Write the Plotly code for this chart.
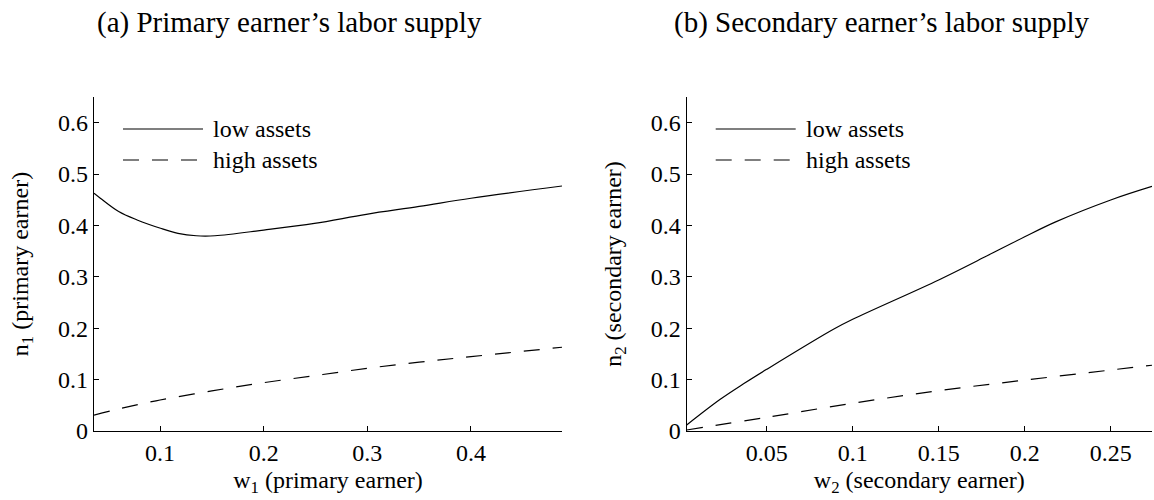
import plotly.graph_objects as go

# ---------------- data ----------------
# (a) primary earner
w1_low = [0.0363, 0.0424, 0.0601, 0.0779, 0.1005, 0.1173, 0.135, 0.153, 0.2, 0.249, 0.299, 0.35, 0.4, 0.4878]
n1_low = [0.4626, 0.453, 0.427, 0.4107, 0.3945, 0.3847, 0.380, 0.380, 0.391, 0.404, 0.4217, 0.437, 0.453, 0.4768]
w1_high = [0.0363, 0.06, 0.1, 0.15, 0.2, 0.25, 0.3, 0.35, 0.4, 0.4878]
n1_high = [0.031, 0.043, 0.0603, 0.078, 0.094, 0.108, 0.122, 0.134, 0.1447, 0.163]

# (b) secondary earner
w2_low = [0.0035, 0.023, 0.037, 0.05, 0.0888, 0.1, 0.15, 0.177, 0.2, 0.218, 0.25, 0.274]
n2_low = [0.0117, 0.0617, 0.0928, 0.120, 0.198, 0.2174, 0.294, 0.339, 0.378, 0.407, 0.4496, 0.476]
w2_high = [0.0035, 0.05, 0.1, 0.15, 0.2, 0.25, 0.274]
n2_high = [0.002, 0.0266, 0.054, 0.0785, 0.099, 0.1187, 0.128]

panel_titles = ["(a) Primary earner’s labor supply", "(b) Secondary earner’s labor supply"]
series_names = ["low assets", "high assets"]
x_titles = ["w<sub>1</sub> (primary earner)", "w<sub>2</sub> (secondary earner)"]
y_titles = ["n<sub>1</sub> (primary earner)", "n<sub>2</sub> (secondary earner)"]
x1_ticks = [0.1, 0.2, 0.3, 0.4]
x2_ticks = [0.05, 0.1, 0.15, 0.2, 0.25]
y_ticks = [0, 0.1, 0.2, 0.3, 0.4, 0.5, 0.6]

# ---------------- layout constants ----------------
W, H = 1154, 500
FONT = "Liberation Serif, Times New Roman, serif"
dash = "16px,13px"
left_dom = [94 / W, 562 / W]
right_dom = [686.7 / W, 1152 / W]
ydom = [1 - 431 / H, 1 - 97 / H]

fig = go.Figure()
line_solid = dict(color="black", width=1.2)
line_dash = dict(color="black", width=1.2, dash=dash)

fig.add_trace(go.Scatter(x=w1_low, y=n1_low, mode="lines", line=line_solid, line_shape="spline",
                         name=series_names[0], xaxis="x", yaxis="y", showlegend=False))
fig.add_trace(go.Scatter(x=w1_high, y=n1_high, mode="lines", line=line_dash, line_shape="spline",
                         name=series_names[1], xaxis="x", yaxis="y", showlegend=False))
fig.add_trace(go.Scatter(x=w2_low, y=n2_low, mode="lines", line=line_solid, line_shape="spline",
                         name=series_names[0], xaxis="x2", yaxis="y2", showlegend=False))
fig.add_trace(go.Scatter(x=w2_high, y=n2_high, mode="lines", line=line_dash, line_shape="spline",
                         name=series_names[1], xaxis="x2", yaxis="y2", showlegend=False))

tickfont = dict(family=FONT, size=24, color="black")
titlefont = dict(family=FONT, size=24, color="black")
axis_common = dict(showline=True, linecolor="black", linewidth=1.2, ticks="inside", ticklen=5,
                   tickcolor="black", tickwidth=1, showgrid=False, zeroline=False,
                   tickfont=tickfont, mirror=False, automargin=False)

fig.update_layout(
    width=W, height=H,
    margin=dict(l=0, r=0, t=0, b=0, autoexpand=False),
    paper_bgcolor="white", plot_bgcolor="white",
    showlegend=False,
    font=dict(family=FONT, color="black"),
    xaxis=dict(domain=left_dom, anchor="y", range=[0.0363, 0.4878], tickvals=x1_ticks,
               title=dict(text=x_titles[0], font=titlefont, standoff=6), **axis_common),
    yaxis=dict(domain=ydom, anchor="x", range=[0, 0.65], tickvals=y_ticks,
               title=dict(text=y_titles[0], font=titlefont, standoff=22), **axis_common),
    xaxis2=dict(domain=right_dom, anchor="y2", range=[0.0035, 0.274], tickvals=x2_ticks,
                title=dict(text=x_titles[1], font=titlefont, standoff=6), **axis_common),
    yaxis2=dict(domain=ydom, anchor="x2", range=[0, 0.65], tickvals=y_ticks,
                title=dict(text=y_titles[1], font=titlefont, standoff=22), **axis_common),
)

# panel titles
for cx, txt in zip([289, 881], panel_titles):
    fig.add_annotation(text=txt, x=cx / W, y=1 - 22 / H, xref="paper", yref="paper",
                       showarrow=False, xanchor="center", yanchor="middle",
                       font=dict(family=FONT, size=29, color="black"))

# manual legends (line samples + labels)
for ax0 in [94, 686.7]:
    for i, (yy, sty) in enumerate([(129, "solid"), (160, dash)]):
        fig.add_shape(type="line", xref="paper", yref="paper",
                      x0=(ax0 + 29) / W, x1=(ax0 + 109) / W, y0=1 - yy / H, y1=1 - yy / H,
                      line=dict(color="black", width=1.2, dash=sty))
        fig.add_annotation(text=series_names[i], x=(ax0 + 117) / W, y=1 - yy / H,
                           xref="paper", yref="paper", showarrow=False,
                           xanchor="left", yanchor="middle", font=tickfont)

post = (
    "document.documentElement.style.margin='0';"
    "document.documentElement.style.overflow='hidden';"
    "document.body.style.margin='0';"
    "document.body.style.overflow='hidden';"
    "var d=document.querySelector('.plotly-graph-div');"
    "if(d){d.style.position='fixed';d.style.left='0';d.style.top='0';}"
)
fig.write_html("out.html", config={"displayModeBar": False}, post_script=post)
